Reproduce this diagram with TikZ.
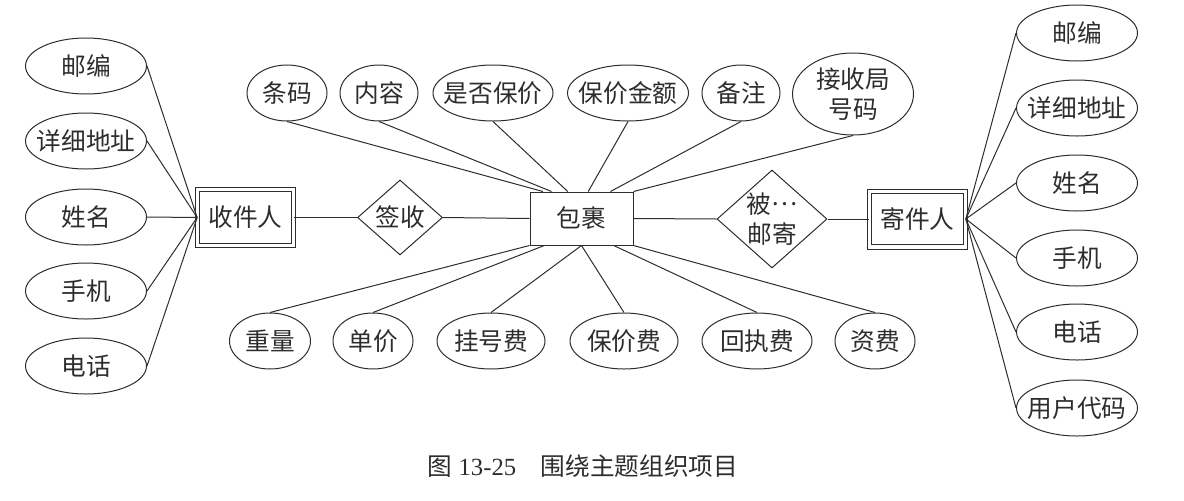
\documentclass[tikz,border=0pt]{standalone}
\usepackage{fontspec}
\setmainfont{Liberation Serif}
\newfontfamily\cjk{Noto Sans CJK SC}
\usetikzlibrary{shapes.geometric}

\definecolor{inkgray}{RGB}{45,45,45}

\tikzset{every picture/.style={line width=0.75pt}}
\tikzset{
  erfont/.style={font=\cjk\fontsize{18.5pt}{22.5pt}\selectfont, text=inkgray},
  attr/.style={erfont, draw=inkgray, ellipse, inner xsep=-10pt, inner ysep=-4pt, minimum width=90.75pt, minimum height=42pt},
  entity/.style={erfont, draw=inkgray, rectangle, inner sep=0pt, minimum width=77.25pt, minimum height=39.75pt},
  weakentity/.style={entity, double, double distance=2.5pt, minimum width=71.75pt, minimum height=41.75pt},
  rel/.style={erfont, draw=inkgray, diamond, inner sep=-3pt, align=center},
  link/.style={draw=inkgray}
}

\begin{document}
\begin{tikzpicture}[x=0.75pt,y=0.75pt,yscale=-1,xscale=1]
\useasboundingbox (0,0) rectangle (1184,500);

%Shape: Double Rectangle
\draw (245.5,217.5) node [weakentity] (recv) {收件人};
%Shape: Diamond
\draw (400,217.5) node [rel, minimum width=63.75pt, minimum height=56.25pt] (sign) {签收};
%Shape: Rectangle
\draw (581.5,218.5) node [entity] (pkg) {包裹};
%Shape: Diamond
\draw (772,219) node [rel, minimum width=82.5pt, minimum height=73.5pt] (mail) {被\raisebox{0.3em}{…}\\邮寄};
%Shape: Double Rectangle
\draw (917.5,219) node [weakentity] (send) {寄件人};

%Shape: Ellipse (receiver)
\draw (86,66) node [attr] (rZip) {邮编};
\draw (86,141) node [attr] (rAddr) {详细地址};
\draw (86,217) node [attr] (rName) {姓名};
\draw (86,291) node [attr] (rMob) {手机};
\draw (86,366) node [attr] (rTel) {电话};

%Shape: Ellipse (sender)
\draw (1077,33) node [attr] (sZip) {邮编};
\draw (1077,108) node [attr] (sAddr) {详细地址};
\draw (1077,183) node [attr] (sName) {姓名};
\draw (1077,258) node [attr] (sMob) {手机};
\draw (1077,332) node [attr] (sTel) {电话};
\draw (1077,408) node [attr] (sCode) {用户代码};

%Shape: Ellipse (parcel, top)
\draw (287,93) node [attr, minimum width=60pt] (code) {条码};
\draw (379,93) node [attr, minimum width=58.5pt] (cont) {内容};
\draw (493,93) node [attr, minimum width=90pt] (insr) {是否保价};
\draw (628,93) node [attr] (insAmt) {保价金额};
\draw (741,93) node [attr, minimum width=58.5pt] (note) {备注};
\draw (853,94) node [attr, minimum height=61.5pt, align=center] (office) {接收局\\号码};

%Shape: Ellipse (parcel, bottom)
\draw (270,341) node [attr, minimum width=60.75pt] (wgt) {重量};
\draw (373,341) node [attr, minimum width=60pt] (price) {单价};
\draw (491,341) node [attr, minimum width=81pt] (regFee) {挂号费};
\draw (624,341) node [attr, minimum width=81pt] (insFee) {保价费};
\draw (757,341) node [attr, minimum width=82.5pt] (rcptFee) {回执费};
\draw (875,341) node [attr, minimum width=60pt] (postFee) {资费};

%Straight Lines
\draw [link] (recv.east) -- (sign.west) ;
\draw [link] (sign.east) -- (pkg.west) ;
\draw [link] (pkg.east) -- (mail.west) ;
\draw [link] (mail.east) -- (send.west) ;

%Straight Lines
\foreach \a in {rZip,rAddr,rName,rMob,rTel}
  \draw [link] (\a.east) -- (recv.west) ;
\foreach \a in {sZip,sAddr,sName,sMob,sTel,sCode}
  \draw [link] (send.east) -- (\a.west) ;

%Straight Lines
\draw [link] (code.south) -- (pkg.145.5) ;
\draw [link] (cont.south) -- (pkg.138) ;
\draw [link] (insr.south) -- (pkg.117) ;
\draw [link] (insAmt.south) -- (pkg.76) ;
\draw [link] (note.south) -- (pkg.43) ;
\draw [link] (office.south) -- (pkg.north east) ;
\draw [link] (wgt.north) -- (pkg.south west) ;
\draw [link] (price.north) -- (pkg.216) ;
\draw [link] (regFee.north) -- (pkg.south) ;
\draw [link] (insFee.north) -- (pkg.south) ;
\draw [link] (rcptFee.north) -- (pkg.320) ;
\draw [link] (postFee.north) -- (pkg.south east) ;

% Text Node
\draw (583,466) node [text=inkgray, font=\fontsize{18.5pt}{22pt}\selectfont] (caption) {{\cjk 图} 13-25\quad{\cjk 围绕主题组织项目}};

\end{tikzpicture}
\end{document}
